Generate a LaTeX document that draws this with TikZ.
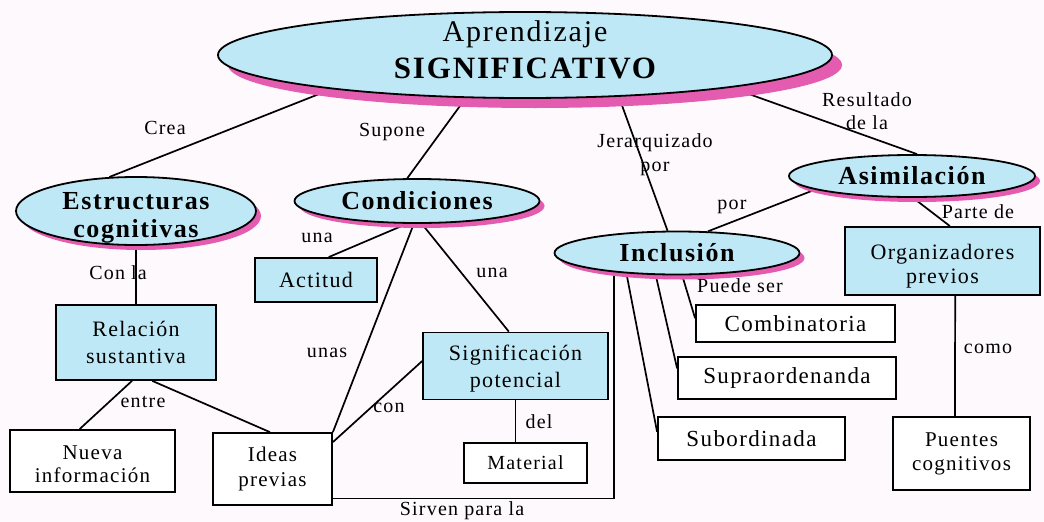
\documentclass[tikz,border=0pt]{standalone}
\usepackage{fontspec}
\setmainfont{Liberation Serif}[LetterSpace=6]
\usetikzlibrary{shapes.geometric, shadows, positioning}

\definecolor{nodeblue}{RGB}{190,232,246}
\definecolor{shadowpink}{RGB}{228,92,176}
\definecolor{paper}{RGB}{253,249,252}
\pgfdeclarelayer{paper}
\pgfdeclarelayer{links}
\pgfsetlayers{paper,links,main}

\tikzset{
  bubble/.style={ellipse, draw, line width=1.8pt, fill=nodeblue, inner sep=0pt, align=center,
    font=\fontsize{26}{28}\selectfont\bfseries,
    drop shadow={shadow xshift=#1, shadow yshift=-#1, fill=shadowpink, opacity=1}},
  bubble/.default=5pt,
  bluebox/.style={rectangle, draw, line width=1.8pt, fill=nodeblue, inner sep=0pt, align=center,
    font=\fontsize{22}{27}\selectfont},
  whitebox/.style={rectangle, draw, line width=1.8pt, fill=white, inner sep=0pt, align=center,
    font=\fontsize{21}{24}\selectfont},
  lbl/.style={inner sep=0pt, align=center, font=\fontsize{20}{23}\selectfont},
  link/.style={line width=1.7pt}
}

\begin{document}
\begin{tikzpicture}[x=1pt, y=-1pt]
            \begin{pgfonlayer}{paper}
              \fill[paper] (0,0) rectangle (1044,522);
            \end{pgfonlayer}
            \useasboundingbox (0,0) rectangle (1044,522);

            % Define concepts
            \node [bubble=10pt, minimum width=614pt, minimum height=86pt, inner ysep=-8pt, font=\fontsize{31}{37}\selectfont\bfseries] (apr) at (525,55) {{\mdseries\fontsize{30}{37}\selectfont Aprendizaje}\\SIGNIFICATIVO\rule[-10pt]{0pt}{0pt}};
            \node [bubble, minimum width=240pt, minimum height=68pt, inner ysep=-10pt] (estr) at (136,211) {\rule{0pt}{30pt}Estructuras\\cognitivas};
            \node [bubble, minimum width=245pt, minimum height=44pt] (cond) at (417,201) {Condiciones};
            \node [bubble, minimum width=246pt, minimum height=42pt] (asim) at (912,176) {Asimilación};
            \node [bubble, minimum width=245pt, minimum height=43pt] (incl) at (677,253) {Inclusión};

            % Define boxes
            \node [bluebox, minimum width=160pt, minimum height=75pt] (rel) at (136,342.5) {Relación\\sustantiva};
            \node [bluebox, minimum width=122pt, minimum height=44pt] (act) at (316,280) {Actitud};
            \node [bluebox, minimum width=185pt, minimum height=67pt] (sig) at (515.5,366) {\rule{0pt}{21pt}Significación\\potencial};
            \node [bluebox, minimum width=195pt, minimum height=68pt, font=\fontsize{22}{24}\selectfont] (org) at (942.5,261) {\rule{0pt}{26pt}Organizadores\\previos};
            \node [whitebox, minimum width=165pt, minimum height=62pt, font=\fontsize{21}{23}\selectfont] (nue) at (92.5,461) {\rule{0pt}{21pt}Nueva\\información};
            \node [whitebox, minimum width=119pt, minimum height=72pt, font=\fontsize{21}{25}\selectfont] (ide) at (272.5,469) {Ideas\\previas};
            \node [whitebox, minimum width=123pt, minimum height=40pt, font=\fontsize{20}{24}\selectfont] (mat) at (525.5,463) {Material};
            \node [whitebox, minimum width=199pt, minimum height=37pt, font=\fontsize{23}{26}\selectfont] (comb) at (795.5,323.5) {Combinatoria};
            \node [whitebox, minimum width=218pt, minimum height=42pt, font=\fontsize{23}{26}\selectfont] (supra) at (787,378) {Supraordenanda};
            \node [whitebox, minimum width=187pt, minimum height=43pt, font=\fontsize{23}{26}\selectfont] (sub) at (751.5,438.5) {Subordinada};
            \node [whitebox, minimum width=137pt, minimum height=73pt] (pue) at (961.5,453.5) {Puentes\\cognitivos};

            % Define labels
            \node [lbl] (lcrea) at (165,128) {Crea};
            \node [lbl] (lsup) at (392,132) {Supone};
            \node [lbl, font=\fontsize{20}{24}\selectfont] (ljer) at (655,155) {Jerarquizado\\por};
            \node [lbl] (lres) at (867,111) {Resultado\\de la};
            \node [lbl] (lpor) at (732,207) {por};
            \node [lbl] (lparte) at (978,212) {Parte de};
            \node [lbl] (lconla) at (118,273) {Con\hspace{6pt}la};
            \node [lbl] (lentre) at (143,402) {entre};
            \node [lbl] (luna) at (317,238) {una};
            \node [lbl] (lunab) at (492,273) {una};
            \node [lbl] (lunas) at (327,353) {unas};
            \node [lbl] (lcon) at (389,408) {con};
            \node [lbl] (ldel) at (539,422) {del};
            \node [lbl] (lsirv) at (462,511) {Sirven para la};
            \node [lbl] (lpuede) at (740,286) {Puede ser};
            \node [lbl] (lcomo) at (988,349) {como};

            % Define lines
            \begin{pgfonlayer}{links}
            \draw [link] (apr.190) -- (estr.128);
            \draw [link] (apr.216) -- (cond.113);
            \draw [link] (apr.336) -- (incl.113);
            \draw [link] (apr.351) -- (asim.77);
            \draw [link] (asim.188) -- (incl.35);
            \draw [link] (asim.273) -- (org.78);
            \draw [link] (estr.south) -- (rel.north);
            \draw [link] (rel.264) -- (nue.112);
            \draw [link] (rel.293) -- (ide.94);
            \draw [link] (cond.246) -- (act.61);
            \draw [link] (cond.262) -- (ide.north east);
            \draw [link] (cond.282) -- (sig.101);
            \draw [link] (sig.177) -- (ide.24);
            \draw [link] (sig.south) -- (sig.south |- mat.north);
            \draw [link] (ide.334) -| (incl.197);
            \draw [link] (incl.283) -- (comb.177);
            \draw [link] (incl.226) -- (supra.175);
            \draw [link] (incl.202) -- (sub.176);
            \draw [link] (org.290) -- (pue.100);
            \end{pgfonlayer}
        \end{tikzpicture}
\end{document}
